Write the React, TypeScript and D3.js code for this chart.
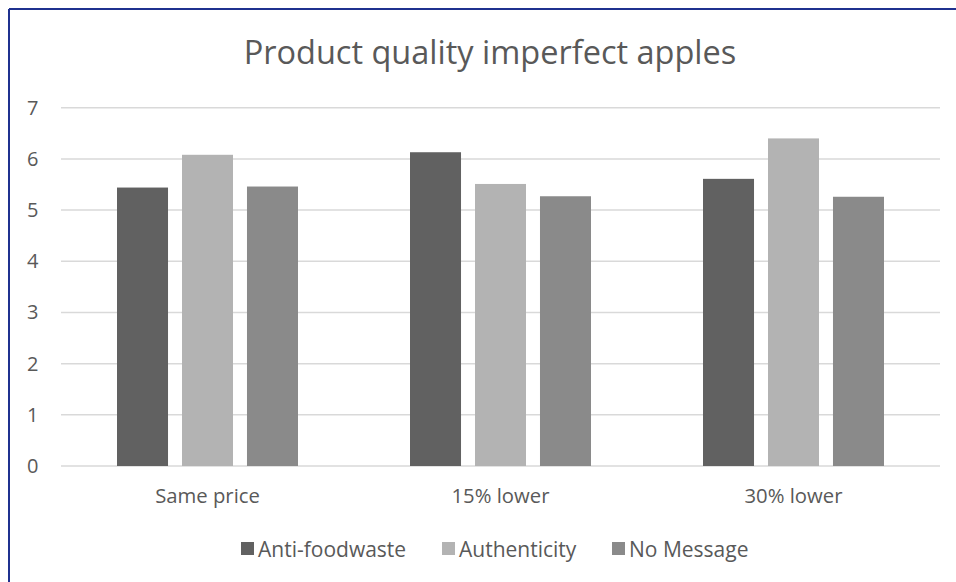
import React from "react";
import * as d3 from "d3";

const categories = ["Same price", "15% lower", "30% lower"];
const seriesNames = ["Anti-foodwaste", "Authenticity", "No Message"];
const antiFoodwaste = [5.44, 6.13, 5.61];
const authenticity = [6.08, 5.51, 6.4];
const noMessage = [5.46, 5.27, 5.26];
const yTicks = [0, 1, 2, 3, 4, 5, 6, 7];
const seriesColors = ["#616161", "#b3b3b3", "#8a8a8a"];

const W = 956;
const H = 582;
const plotLeft = 61;
const plotRight = 940;
const plotTop = 107.7;
const plotBottom = 466;
const FONT = "'Open Sans', sans-serif";
const TEXT = "#595959";

export default function App() {
  const series = [antiFoodwaste, authenticity, noMessage];
  const x0 = d3.scaleBand<string>().domain(categories).range([plotLeft, plotRight]).padding(0);
  const groupPad = 56;
  const x1 = d3
    .scaleBand<string>()
    .domain(seriesNames)
    .range([groupPad, x0.bandwidth() - groupPad])
    .paddingInner(0.215)
    .paddingOuter(0);
  const y = d3.scaleLinear().domain([0, 7]).range([plotBottom, plotTop]);

  const legendX = [241, 442, 612];

  return (
    <svg
      width={W}
      height={H}
      style={{ position: "absolute", left: 0, top: 0, background: "#fff" }}
      fontFamily={FONT}
    >
      <rect x={0} y={0} width={W} height={H} fill="#fff" />
      <line x1={9} y1={9} x2={W} y2={9} stroke="#1f318f" strokeWidth={2} />
      <line x1={9} y1={9} x2={9} y2={H} stroke="#1f318f" strokeWidth={2} />

      <text x={490} y={64} textAnchor="middle" fontSize={32.5} fill={TEXT}>
        Product quality imperfect apples
      </text>

      {yTicks.map((t) => (
        <g key={t}>
          <line
            x1={plotLeft}
            x2={plotRight}
            y1={y(t)}
            y2={y(t)}
            stroke="#d9d9d9"
            strokeWidth={1.5}
          />
          <text
            x={38.5}
            y={y(t)}
            dy="0.35em"
            textAnchor="end"
            fontSize={20}
            fill={TEXT}
          >
            {t}
          </text>
        </g>
      ))}

      {categories.map((c, ci) => (
        <g key={c} transform={`translate(${x0(c)},0)`}>
          {seriesNames.map((s, si) => {
            const v = series[si][ci];
            return (
              <rect
                key={s}
                x={x1(s)}
                y={y(v)}
                width={x1.bandwidth()}
                height={y(0) - y(v)}
                fill={seriesColors[si]}
              />
            );
          })}
          <text
            x={x0.bandwidth() / 2}
            y={503}
            textAnchor="middle"
            fontSize={20.3}
            fill={TEXT}
          >
            {c}
          </text>
        </g>
      ))}

      {seriesNames.map((s, si) => (
        <g key={s} transform={`translate(${legendX[si]},0)`}>
          <rect x={0} y={542} width={13} height={13} fill={seriesColors[si]} />
          <text x={17} y={556.5} fontSize={21} fill={TEXT}>
            {s}
          </text>
        </g>
      ))}
    </svg>
  );
}
